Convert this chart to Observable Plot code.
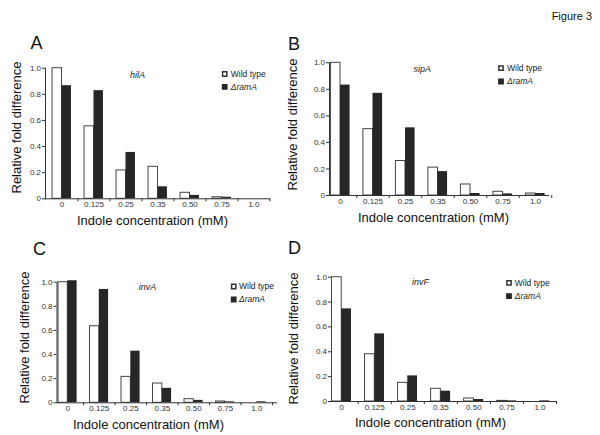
<!DOCTYPE html>
<html><head><meta charset="utf-8">
<script src="https://cdn.jsdelivr.net/npm/d3@7"></script>
<script src="https://cdn.jsdelivr.net/npm/@observablehq/plot@0.6"></script>
<style>
body{margin:0;background:#fff;}
#fig{position:relative;width:600px;height:435px;font-family:"Liberation Sans",Arial,Helvetica,sans-serif;overflow:hidden;}
#fig > svg{position:absolute;}
.figtitle{position:absolute;right:8px;top:10px;font-size:11px;color:#111;}
</style></head><body>
<div id="fig"><div class="figtitle">Figure 3</div></div>
<script>
// ---- data ----
const concentrations = ["0","0.125","0.25","0.35","0.50","0.75","1.0"];
const yTicks = [0, 0.2, 0.4, 0.6, 0.8, 1.0];
const yTickLabels = ["0","0.2","0.4","0.6","0.8","1.0"];
const seriesNames = ["Wild type", "\u0394ramA"];
const genes = ["hilA", "sipA", "invA", "invF"];
const panelLetters = ["A", "B", "C", "D"];
const yTitle = "Relative fold difference";
const xTitle = "Indole concentration (mM)";

const hilA_wt  = [1.0, 0.555, 0.217, 0.245, 0.046, 0.012, 0];
const hilA_ram = [0.866, 0.828, 0.355, 0.092, 0.026, 0.012, 0];
const sipA_wt  = [1.0, 0.50, 0.26, 0.21, 0.083, 0.028, 0.015];
const sipA_ram = [0.832, 0.77, 0.51, 0.18, 0.015, 0.012, 0.015];
const invA_wt  = [1.0, 0.635, 0.215, 0.16, 0.03, 0.011, 0];
const invA_ram = [1.012, 0.94, 0.428, 0.12, 0.02, 0.008, 0.008];
const invF_wt  = [1.0, 0.38, 0.15, 0.102, 0.024, 0.005, 0];
const invF_ram = [0.745, 0.544, 0.206, 0.083, 0.016, 0.005, 0.005];

// ---- layout (page pixel coordinates) ----
const FONT = '"Liberation Sans", Arial, Helvetica, sans-serif';
const PAD = 0.41;
const layout = [
  {svg:[0,20,285,215],   axis:[45,270,67.7,198.3],   xr:[45.5,269.5],    letter:[36,42.5],  ytitle:[16,127],  xtitle:[152,220], gene:[137,75],    legend:[224.2,230.3,73.5,86.3]},
  {svg:[280,20,320,215], axis:[329,549,62.3,195],    xr:[323.75,551.25], letter:[293.5,44], ytitle:[292,124], xtitle:[433,217], gene:[421.7,69],  legend:[500.5,506.5,67.7,81]},
  {svg:[0,230,285,205],  axis:[56.5,277,281.7,402.3],xr:[51.55,272.05],  letter:[39,249],   ytitle:[24,337],  xtitle:[148,424], gene:[147,286.7], legend:[233.2,238.5,286,299]},
  {svg:[280,230,320,205],axis:[331,557,276.7,401],   xr:[324.7,556],     letter:[294,248],  ytitle:[293,338], xtitle:[430,422], gene:[420,282],   legend:[508.5,514.3,282.3,295.7]}
];

function panel(i, wt, ram) {
  const L = layout[i];
  const [sx, sy, W, H] = L.svg;
  const [ax0, ax1, yT, yB] = L.axis;
  const ml = ax0 - sx, mr = sx + W - ax1, mt = yT - sy, mb = sy + H - yB;
  const at = (px, py) => ({frameAnchor: "top-left", lineAnchor: "middle", dx: px - ax0, dy: py - yT});
  const step = (L.xr[1] - L.xr[0]) / concentrations.length;
  const half = step * (1 - PAD) / 2;
  const rows = concentrations.map((c, j) => ({c, wt: wt[j], ram: ram[j]}));
  const svg = Plot.plot({
    width: W, height: H,
    marginLeft: ml, marginRight: mr, marginTop: mt, marginBottom: mb,
    style: {fontFamily: FONT, fontSize: "8px", color: "#333", background: "transparent", overflow: "visible"},
    x: {type: "band", domain: concentrations, range: [L.xr[0] - sx, L.xr[1] - sx],
        paddingInner: PAD, paddingOuter: PAD / 2, round: false,
        tickSize: 0, tickPadding: 3, label: null},
    y: {domain: [0, 1], ticks: yTicks,
        tickFormat: d => yTickLabels[yTicks.findIndex(t => Math.abs(t - d) < 1e-9)],
        tickSize: 3, tickPadding: 1.5, line: true, label: null},
    marks: [
      Plot.barY(rows, {x: "c", y: "wt", fill: "white", stroke: "#444", strokeWidth: 1, insetRight: half}),
      Plot.barY(rows, {x: "c", y: "ram", fill: "#262626", insetLeft: half}),
      Plot.ruleY([0], {stroke: "#333"}),
      Plot.ruleX(concentrations, {x: d => d, y1: 0, y2: 0, dx: step / 2, insetTop: 0, insetBottom: -3, stroke: "#333"}),
      Plot.text([panelLetters[i]], {...at(...L.letter), text: d => d, fontSize: 18, fill: "#111", textAnchor: "middle"}),
      Plot.text([yTitle], {...at(...L.ytitle), text: d => d, rotate: -90, fontSize: 13, fill: "#111", textAnchor: "middle"}),
      Plot.text([xTitle], {...at(...L.xtitle), text: d => d, fontSize: 13, fill: "#111", textAnchor: "middle"}),
      Plot.text([genes[i]], {...at(...L.gene), text: d => d, fontSize: 9, fontStyle: "italic", fill: "#222", textAnchor: "middle"}),
      Plot.dot([seriesNames[0]], {...at(L.legend[0], L.legend[2]), symbol: "square", r: 2.4, fill: "white", stroke: "#333"}),
      Plot.dot([seriesNames[1]], {...at(L.legend[0], L.legend[3]), symbol: "square", r: 2.4, fill: "#262626", stroke: "#262626"}),
      Plot.text([seriesNames[0]], {...at(L.legend[1], L.legend[2]), text: d => d, fontSize: 8.5, fill: "#222", textAnchor: "start"}),
      Plot.text([seriesNames[1]], {...at(L.legend[1], L.legend[3]), text: d => d, fontSize: 8.5, fontStyle: "italic", fill: "#222", textAnchor: "start"})
    ]
  });
  svg.style.left = sx + "px";
  svg.style.top = sy + "px";
  document.getElementById("fig").appendChild(svg);
}

panel(0, hilA_wt, hilA_ram);
panel(1, sipA_wt, sipA_ram);
panel(2, invA_wt, invA_ram);
panel(3, invF_wt, invF_ram);
</script>
</body></html>
